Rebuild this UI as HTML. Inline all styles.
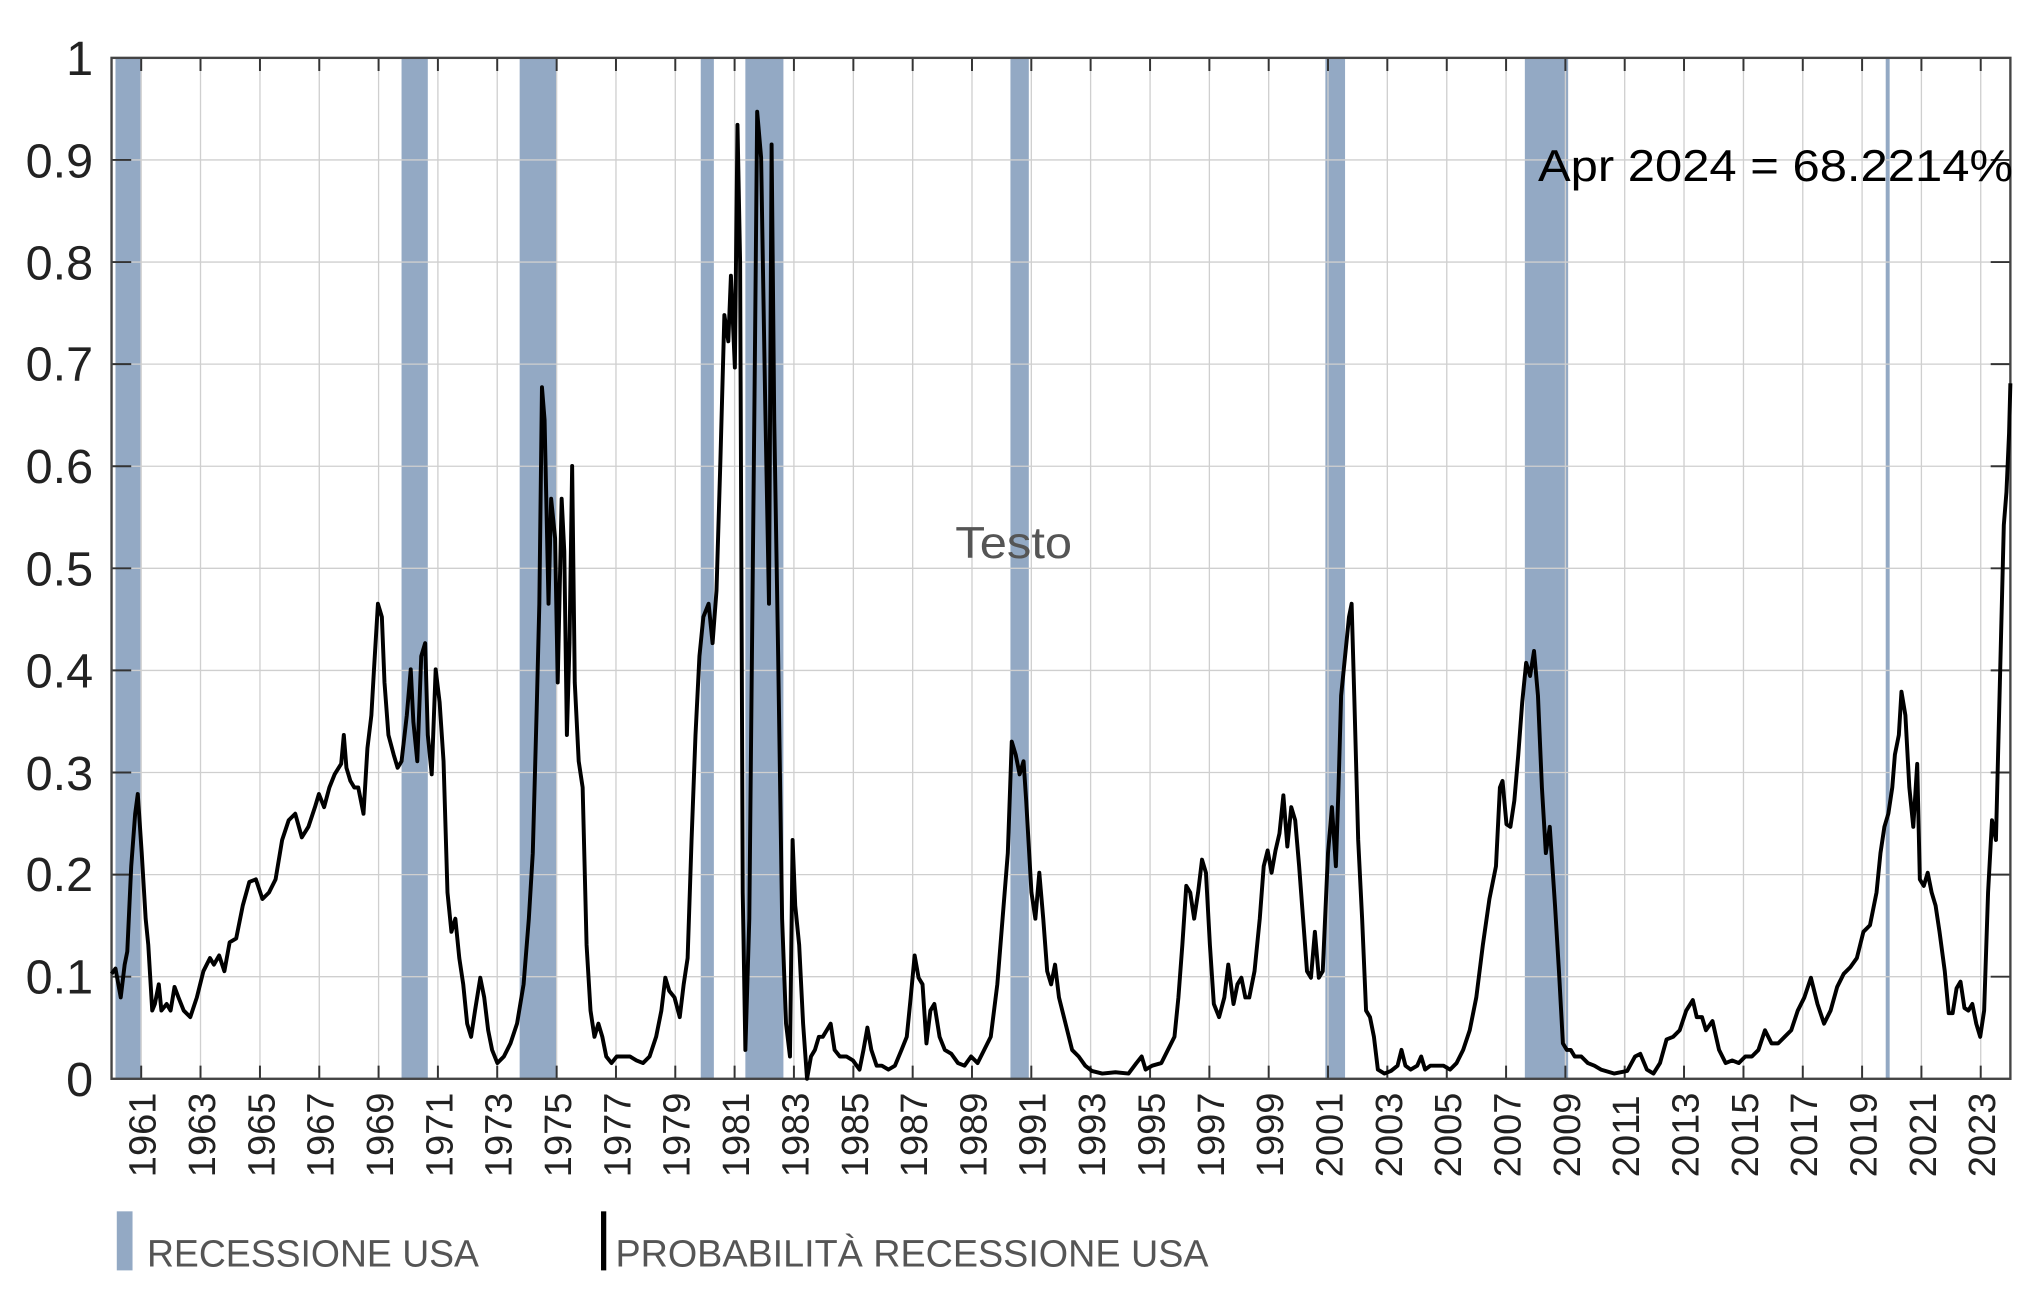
<!DOCTYPE html>
<html><head><meta charset="utf-8"><style>html,body{margin:0;padding:0;background:#fff}svg{display:block}</style></head>
<body>
<svg width="2034" height="1302" viewBox="0 0 1550 992" xmlns="http://www.w3.org/2000/svg" font-family="'Liberation Sans', sans-serif">
<rect width="1550" height="992" fill="#fff"/>
<g fill="#93a9c4">
<rect x="88" y="44" width="19" height="778"/>
<rect x="306" y="44" width="20" height="778"/>
<rect x="396" y="44" width="28" height="778"/>
<rect x="534" y="44" width="10" height="778"/>
<rect x="568" y="44" width="29" height="778"/>
<rect x="770" y="44" width="14" height="778"/>
<rect x="1010" y="44" width="15" height="778"/>
<rect x="1162" y="44" width="33" height="778"/>
<rect x="1437" y="44" width="3" height="778"/>
</g>
<path stroke="#cfcfcf" stroke-width="1" fill="none" d="M85 744.2H1532M85 666.4H1532M85 588.6H1532M85 510.8H1532M85 433H1532M85 355.2H1532M85 277.4H1532M85 199.6H1532M85 121.8H1532
M107.6 44V822M152.8 44V822M198.1 44V822M243.3 44V822M288.5 44V822M333.7 44V822M378.9 44V822M424.2 44V822M469.4 44V822M514.6 44V822M559.8 44V822M605 44V822M650.3 44V822M695.5 44V822M740.7 44V822M785.9 44V822M831.1 44V822M876.4 44V822M921.6 44V822M966.8 44V822M1012 44V822M1057.2 44V822M1102.5 44V822M1147.7 44V822M1192.9 44V822M1238.1 44V822M1283.3 44V822M1328.6 44V822M1373.8 44V822M1419 44V822M1464.2 44V822M1509.4 44V822"/>
<path stroke="#333" stroke-width="1.5" fill="none" d="M85 744.2h15M85 666.4h15M85 588.6h15M85 510.8h15M85 433h15M85 355.2h15M85 277.4h15M85 199.6h15M85 121.8h15
M1517 744.2h15M1517 666.4h15M1517 588.6h15M1517 510.8h15M1517 433h15M1517 355.2h15M1517 277.4h15M1517 199.6h15M1517 121.8h15
M107.6 44v10M152.8 44v10M198.1 44v10M243.3 44v10M288.5 44v10M333.7 44v10M378.9 44v10M424.2 44v10M469.4 44v10M514.6 44v10M559.8 44v10M605 44v10M650.3 44v10M695.5 44v10M740.7 44v10M785.9 44v10M831.1 44v10M876.4 44v10M921.6 44v10M966.8 44v10M1012 44v10M1057.2 44v10M1102.5 44v10M1147.7 44v10M1192.9 44v10M1238.1 44v10M1283.3 44v10M1328.6 44v10M1373.8 44v10M1419 44v10M1464.2 44v10M1509.4 44v10
M107.6 812v10M152.8 812v10M198.1 812v10M243.3 812v10M288.5 812v10M333.7 812v10M378.9 812v10M424.2 812v10M469.4 812v10M514.6 812v10M559.8 812v10M605 812v10M650.3 812v10M695.5 812v10M740.7 812v10M785.9 812v10M831.1 812v10M876.4 812v10M921.6 812v10M966.8 812v10M1012 812v10M1057.2 812v10M1102.5 812v10M1147.7 812v10M1192.9 812v10M1238.1 812v10M1283.3 812v10M1328.6 812v10M1373.8 812v10M1419 812v10M1464.2 812v10M1509.4 812v10"/>
<rect x="85" y="44" width="1447" height="778" fill="none" stroke="#444" stroke-width="1.8"/>
<g font-size="37" fill="#222" text-anchor="end">
<text x="71" y="835">0</text><text x="71" y="757">0.1</text><text x="71" y="679">0.2</text><text x="71" y="602">0.3</text><text x="71" y="524">0.4</text><text x="71" y="446">0.5</text><text x="71" y="368">0.6</text><text x="71" y="290">0.7</text><text x="71" y="213">0.8</text><text x="71" y="135">0.9</text><text x="71" y="57">1</text>
</g>
<g font-size="29" fill="#222">
<text transform="translate(118.6,897) rotate(-90)">1961</text>
<text transform="translate(163.8,897) rotate(-90)">1963</text>
<text transform="translate(209.1,897) rotate(-90)">1965</text>
<text transform="translate(254.3,897) rotate(-90)">1967</text>
<text transform="translate(299.5,897) rotate(-90)">1969</text>
<text transform="translate(344.7,897) rotate(-90)">1971</text>
<text transform="translate(389.9,897) rotate(-90)">1973</text>
<text transform="translate(435.2,897) rotate(-90)">1975</text>
<text transform="translate(480.4,897) rotate(-90)">1977</text>
<text transform="translate(525.6,897) rotate(-90)">1979</text>
<text transform="translate(570.8,897) rotate(-90)">1981</text>
<text transform="translate(616,897) rotate(-90)">1983</text>
<text transform="translate(661.3,897) rotate(-90)">1985</text>
<text transform="translate(706.5,897) rotate(-90)">1987</text>
<text transform="translate(751.7,897) rotate(-90)">1989</text>
<text transform="translate(796.9,897) rotate(-90)">1991</text>
<text transform="translate(842.1,897) rotate(-90)">1993</text>
<text transform="translate(887.4,897) rotate(-90)">1995</text>
<text transform="translate(932.6,897) rotate(-90)">1997</text>
<text transform="translate(977.8,897) rotate(-90)">1999</text>
<text transform="translate(1023,897) rotate(-90)">2001</text>
<text transform="translate(1068.2,897) rotate(-90)">2003</text>
<text transform="translate(1113.5,897) rotate(-90)">2005</text>
<text transform="translate(1158.7,897) rotate(-90)">2007</text>
<text transform="translate(1203.9,897) rotate(-90)">2009</text>
<text transform="translate(1249.1,897) rotate(-90)">2011</text>
<text transform="translate(1294.3,897) rotate(-90)">2013</text>
<text transform="translate(1339.6,897) rotate(-90)">2015</text>
<text transform="translate(1384.8,897) rotate(-90)">2017</text>
<text transform="translate(1430,897) rotate(-90)">2019</text>
<text transform="translate(1475.2,897) rotate(-90)">2021</text>
<text transform="translate(1520.4,897) rotate(-90)">2023</text>
</g>
<polyline fill="none" stroke="#000" stroke-width="3" stroke-linejoin="round" points="85,742 88,738 92,760 95,735 97,725 100,660 103,620 105,605 108,650 111,700 113,720 116,770 118,765 121,750 123,770 127,765 130,770 133,752 136,760 140,770 145,775 150,760 155,740 160,730 163,735 167,728 171,740 175,718 180,715 185,690 190,672 195,670 200,685 205,680 210,670 215,640 220,625 225,620 230,638 235,630 240,615 243,605 247,615 251,600 255,590 260,582 262,560 264,585 267,595 270,600 273,600 277,620 280,570 283,545 285,510 288,460 291,470 293,520 296,560 300,575 303,585 306,580 310,545 313,510 315,550 318,580 321,500 324,490 326,560 329,590 332,510 335,535 338,580 341,680 344,710 347,700 350,730 353,750 356,780 359,790 362,770 366,745 369,760 372,785 375,800 379,810 384,805 389,795 394,780 399,750 403,700 406,650 409,540 411,460 413,295 415,320 418,460 420,380 423,410 425,520 428,380 430,420 432,560 434,490 436,355 438,520 441,580 444,600 447,720 450,770 453,790 456,780 459,790 462,805 466,810 470,805 475,805 480,805 485,808 490,810 495,805 500,790 504,770 507,745 510,755 514,760 518,775 521,750 524,730 527,640 530,560 533,500 536,470 540,460 543,490 546,450 549,350 552,240 555,260 557,210 560,280 562,95 564,200 566,680 568,800 571,700 573,500 575,300 577,85 580,120 583,300 586,460 588,110 590,320 593,500 596,700 599,780 602,805 604,640 606,690 609,720 612,780 615,822 618,805 621,800 624,790 627,790 630,785 633,780 636,800 640,805 645,805 650,808 655,815 658,800 661,783 664,800 668,812 672,812 677,815 682,812 687,800 691,790 694,760 697,728 700,745 703,750 706,795 709,770 712,765 716,790 720,800 725,803 730,810 735,812 740,805 745,810 750,800 755,790 760,750 764,700 768,650 771,565 774,575 777,590 780,580 782,610 786,680 789,700 792,665 795,700 798,740 801,750 804,735 807,760 812,780 817,800 822,805 827,812 832,816 840,818 850,817 860,818 866,810 870,805 873,815 878,812 885,810 890,800 895,790 898,760 901,720 904,675 907,680 910,700 913,680 916,655 919,665 922,720 925,765 929,775 933,760 936,735 940,765 943,750 946,745 949,760 952,760 956,740 960,700 963,660 966,648 969,665 972,648 975,635 978,606 981,645 984,615 987,625 990,660 993,700 996,740 999,745 1002,710 1005,745 1008,740 1012,650 1015,615 1018,660 1020,600 1022,530 1025,500 1028,470 1030,460 1032,530 1035,640 1038,700 1041,770 1044,775 1047,790 1050,815 1055,818 1060,816 1065,812 1068,800 1071,812 1075,815 1080,812 1083,805 1086,815 1090,812 1095,812 1100,812 1105,815 1110,810 1115,800 1120,785 1125,760 1130,720 1135,685 1140,660 1143,600 1145,595 1148,628 1151,630 1154,610 1157,575 1160,535 1163,505 1166,515 1169,496 1172,530 1175,600 1178,650 1181,630 1185,690 1188,740 1191,795 1194,800 1197,800 1200,805 1205,805 1210,810 1215,812 1220,815 1230,818 1240,816 1246,805 1250,803 1255,815 1260,818 1265,810 1270,792 1275,790 1280,785 1285,770 1290,762 1293,775 1297,775 1300,785 1305,778 1310,800 1315,810 1320,808 1325,810 1330,805 1335,805 1340,800 1345,785 1350,795 1355,795 1360,790 1365,785 1370,770 1375,760 1380,745 1385,765 1390,780 1395,770 1400,752 1405,742 1410,737 1415,730 1420,710 1425,705 1430,680 1433,650 1436,630 1439,620 1442,600 1444,575 1447,560 1449,527 1452,545 1455,600 1458,630 1461,582 1463,670 1466,675 1469,665 1472,680 1475,690 1478,710 1482,740 1485,772 1488,772 1491,753 1494,748 1497,768 1500,770 1503,765 1506,780 1509,790 1512,770 1515,680 1518,625 1521,640 1524,520 1527,400 1529,375 1531,330 1532,292"/>
<text x="1172" y="138" font-size="34" fill="#000" textLength="362" lengthAdjust="spacingAndGlyphs">Apr 2024 = 68.2214%</text>
<text x="728" y="425" font-size="34" fill="#555" textLength="89" lengthAdjust="spacingAndGlyphs">Testo</text>
<rect x="89" y="923" width="12" height="45" fill="#93a9c4"/>
<text x="112" y="965" font-size="29" fill="#555" textLength="253" lengthAdjust="spacingAndGlyphs">RECESSIONE USA</text>
<rect x="458" y="923" width="4" height="45" fill="#000"/>
<text x="469" y="965" font-size="29" fill="#555" textLength="452" lengthAdjust="spacingAndGlyphs">PROBABILITÀ RECESSIONE USA</text>
</svg>
</body></html>
